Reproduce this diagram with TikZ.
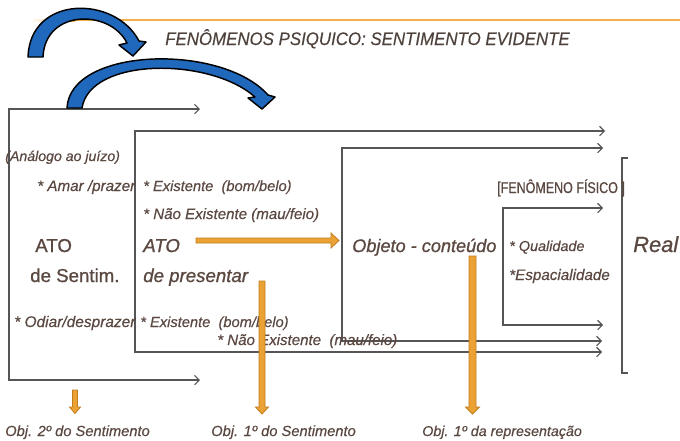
\documentclass[tikz,border=0pt]{standalone}
\usepackage{fontspec}
\setmainfont[FakeBold=0.4]{Liberation Sans}
\newfontfamily\heavy[FakeBold=0.9]{Liberation Sans}
\newfontfamily\condT[FakeStretch=0.93,FakeBold=0.3]{Liberation Sans}
\newfontfamily\condF[FakeStretch=0.8,FakeBold=0.6]{Liberation Sans}
\usetikzlibrary{arrows.meta}
\definecolor{txt}{HTML}{5A4841}
\definecolor{ttl}{HTML}{4E423C}
\definecolor{orng}{HTML}{EBA235}
\definecolor{orngd}{HTML}{C27C1C}
\definecolor{orngl}{HTML}{F4B04A}
\definecolor{blu}{HTML}{1F68BC}
\definecolor{ln}{HTML}{555555}
\newcommand{\fsz}[1]{\fontsize{#1}{#1}\selectfont}
\begin{document}
\begin{tikzpicture}[x=0.75pt,y=-0.75pt,
  lbl/.style={inner sep=0pt, anchor=base west, text=txt},
  brk/.style={draw=ln, line width=0.8pt, {Straight Barb[length=3.5pt,width=7pt]}-{Straight Barb[length=3.5pt,width=7pt]}},
  brak/.style={draw=ln, line width=0.8pt},
  fat/.style={fill=orng, draw=orngd, line width=0.6pt, line join=miter},
  curv/.style={fill=blu, draw=black, line width=1.1pt, line join=round}]
\path[use as bounding box, fill=white] (0,0) rectangle (680,440);

% top orange rule
\shade[left color=white, right color=orngl] (30,19) rectangle (75,21.2);
\fill[orngl] (75,19) rectangle (680,21.2);

% brackets / connectors
\coordinate (a1) at (200,109); \coordinate (a2) at (9,109);
\coordinate (a3) at (9,380);   \coordinate (a4) at (200,380);
\coordinate (b1) at (605,131); \coordinate (b2) at (135,131);
\coordinate (b3) at (135,352); \coordinate (b4) at (602,352);
\coordinate (c1) at (603,148); \coordinate (c2) at (342,148);
\coordinate (c3) at (342,341); \coordinate (c4) at (602,341);
\coordinate (d1) at (603,208); \coordinate (d2) at (503,208);
\coordinate (d3) at (503,325); \coordinate (d4) at (603,325);
\coordinate (e1) at (628,158); \coordinate (e2) at (622,158);
\coordinate (e3) at (622,373); \coordinate (e4) at (628,373);
\draw[brk] (a1) -- (a2) -- (a3) -- (a4);
\draw[brk] (b1) -- (b2) -- (b3) -- (b4);
\draw[brk] (c1) -- (c2) -- (c3) -- (c4);
\draw[brk] (d1) -- (d2) -- (d3) -- (d4);
\draw[brak] (e1) -- (e2) -- (e3) -- (e4);

% texts
\node[lbl, text=ttl, font=\condT\itshape\fsz{13.6}] (title) at (165,45) {FENÔMENOS PSIQUICO: SENTIMENTO EVIDENTE};
\node[lbl, font=\itshape\fsz{10.6}] (analog) at (5,161) {(Análogo ao juízo)};
\node[lbl, font=\itshape\fsz{11.4}] (amar) at (37,191) {* Amar /prazer};
\node[lbl, font=\itshape\fsz{11}] (ex1) at (143,191) {* Existente~~(bom/belo)};
\node[lbl, font=\itshape\fsz{11.3}] (nex1) at (143,219) {* Não Existente (mau/feio)};
\node[lbl, font=\heavy\fsz{14}] (ato1) at (35,252) {ATO};
\node[lbl, font=\heavy\fsz{14}] (sent) at (30,282) {de Sentim.};
\node[lbl, font=\heavy\itshape\fsz{14}] (ato2) at (143,252) {ATO};
\node[lbl, font=\heavy\itshape\fsz{14}] (pres) at (143,282) {de presentar};
\node[lbl, font=\heavy\itshape\fsz{13.6}] (obj) at (352,252) {Objeto - conteúdo};
\node[lbl, font=\condF\fsz{11.7}] (fis) at (497,193) {[FENÔMENO FÍSICO ]};
\node[lbl, font=\itshape\fsz{10.8}] (qual) at (509,251) {* Qualidade};
\node[lbl, font=\itshape\fsz{11.4}] (esp) at (509,280) {*Espacialidade};
\node[lbl, font=\heavy\itshape\fsz{16.4}] (real) at (633,252) {Real};
\node[lbl, font=\itshape\fsz{11.6}] (odiar) at (14,327) {* Odiar/desprazer};
\node[lbl, font=\itshape\fsz{11}] (ex2) at (140,327) {* Existente~~(bom/belo)};
\node[lbl, font=\itshape\fsz{11.3}] (nex2) at (217,345) {* Não Existente~~(mau/feio)};
\node[lbl, font=\itshape\fsz{11}] (o2s) at (5,436) {Obj. 2º do Sentimento};
\node[lbl, font=\itshape\fsz{11}] (o1s) at (211,436) {Obj. 1º do Sentimento};
\node[lbl, font=\itshape\fsz{10.7}] (o1r) at (422,436) {Obj. 1º da representação};

% orange block arrows
\draw[fat] (196,238) -- (331,238) -- (331,233) -- (339,240.5) -- (331,248) -- (331,243) -- (196,243) -- cycle;
\draw[fat] (259,281) -- (265,281) -- (265,407) -- (268.5,407) -- (262,414) -- (255.5,407) -- (259,407) -- cycle;
\draw[fat] (469,256) -- (476,256) -- (476,407) -- (479.5,407) -- (472.5,414) -- (465.5,407) -- (469,407) -- cycle;
\draw[fat] (72.5,390) -- (77.5,390) -- (77.5,407) -- (80.5,407) -- (75,413.5) -- (69.5,407) -- (72.5,407) -- cycle;

% blue curved arrows
\draw[curv] (28,57) .. controls (30,-5) and (115,-5) .. (139,41)
  -- (146,42) -- (133,56) -- (119,45) -- (127,43)
  .. controls (110,9) and (45,9) .. (43,57) -- cycle;
\draw[curv] (67,108) .. controls (70,47) and (222,43) .. (268,95)
  -- (275,97) -- (262,109) -- (248,98) -- (255,97)
  .. controls (210,57) and (90,57) .. (82,108) -- cycle;
\end{tikzpicture}
\end{document}
